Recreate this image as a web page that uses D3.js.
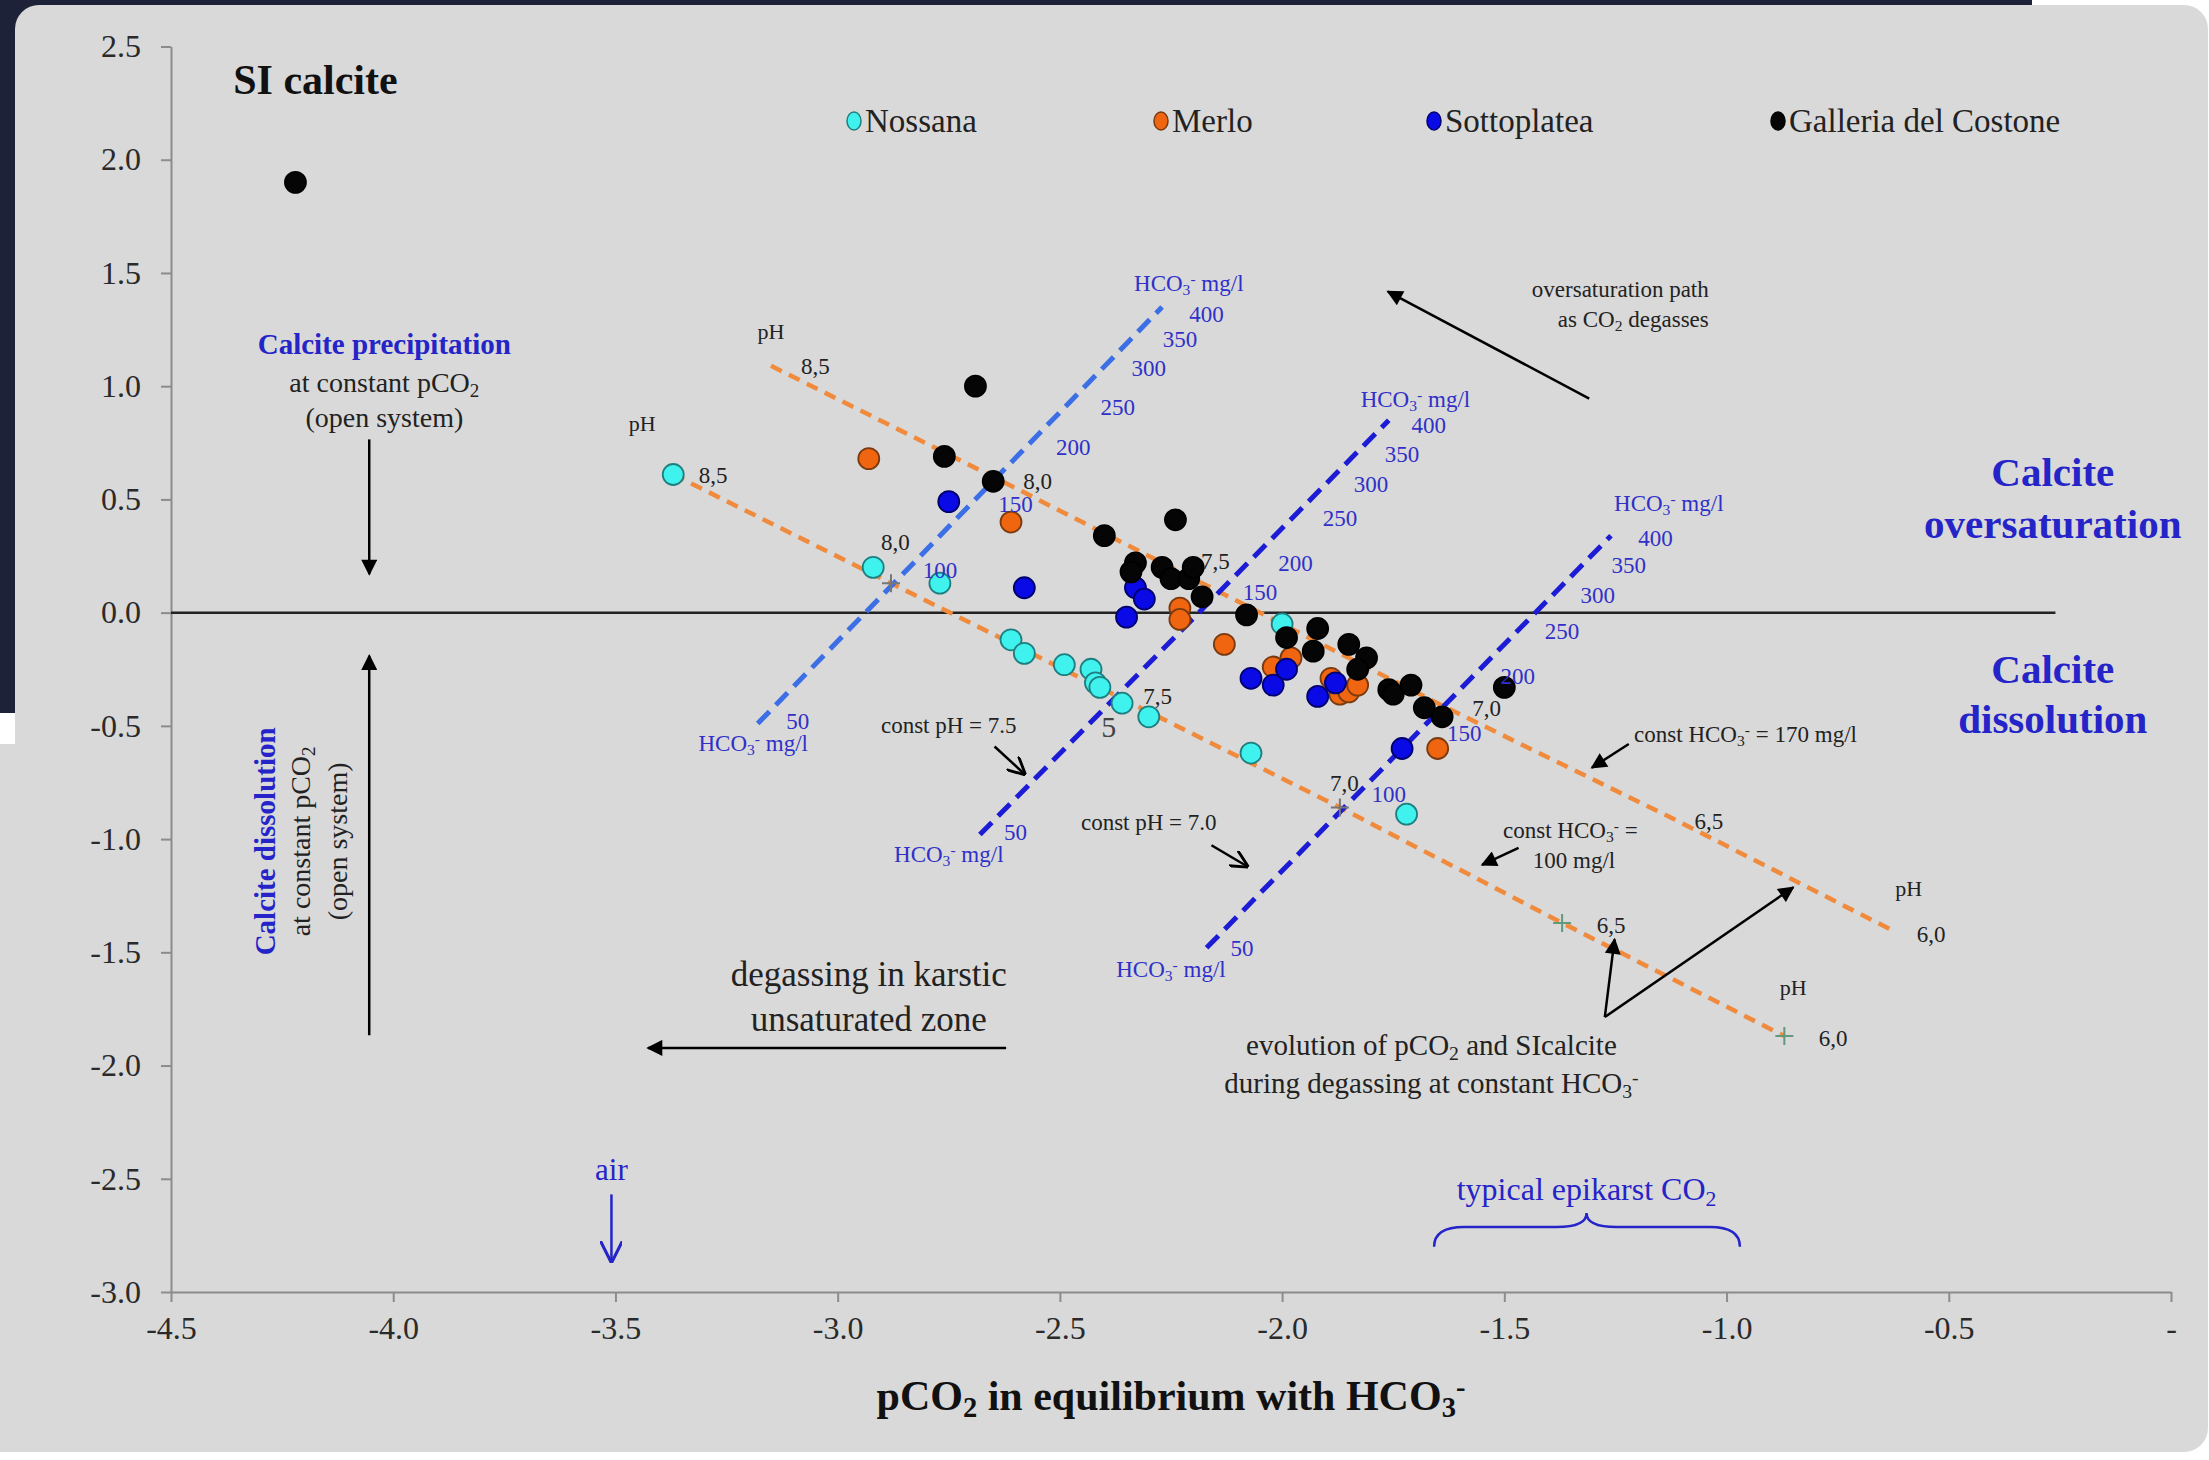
<!DOCTYPE html>
<html lang="en">
<head>
<meta charset="utf-8">
<title>SI calcite vs pCO2</title>
<script src="https://cdn.jsdelivr.net/npm/d3@7"></script>
<style>
	body { margin: 0; background: #fff; }
	svg text { font-family: "Liberation Serif", "Times New Roman", serif; }
	.axis path, .axis line { stroke: #8c8c8c; stroke-width: 2px; }
	.axis text { fill: #2a2a2a; font-size: 32px; font-family: "Liberation Serif", serif; }
</style>
</head>
<body>
<div id="chart"></div>
<script>
	// data: [pCO2, SI calcite]
	var seriesNames = ["Nossana", "Merlo", "Sottoplatea", "Galleria del Costone"];

	var nossana = [[-3.37, 0.61], [-2.92, 0.20], [-2.77, 0.13], [-2.61, -0.12], [-2.58, -0.18], [-2.49, -0.23],
		[-2.43, -0.25], [-2.42, -0.31], [-2.41, -0.33], [-2.36, -0.40], [-2.30, -0.46], [-2.07, -0.62],
		[-2.00, -0.05], [-1.72, -0.89]];

	var merlo = [[-2.93, 0.68], [-2.61, 0.40], [-2.23, 0.02], [-2.23, -0.03], [-2.13, -0.14], [-2.02, -0.24],
		[-1.98, -0.20], [-1.89, -0.29], [-1.87, -0.36], [-1.85, -0.35], [-1.83, -0.32], [-1.65, -0.60]];

	var sottoplatea = [[-2.75, 0.49], [-2.58, 0.11], [-2.33, 0.11], [-2.31, 0.06], [-2.35, -0.02], [-2.07, -0.29],
		[-2.02, -0.32], [-1.99, -0.25], [-1.92, -0.37], [-1.88, -0.31], [-1.73, -0.60]];

	var costone = [[-4.22, 1.90], [-2.69, 1.00], [-2.76, 0.69], [-2.65, 0.58], [-2.24, 0.41], [-2.40, 0.34],
		[-2.33, 0.22], [-2.34, 0.18], [-2.27, 0.20], [-2.25, 0.15], [-2.21, 0.15], [-2.20, 0.20], [-2.18, 0.07],
		[-2.08, -0.01], [-1.99, -0.11], [-1.92, -0.07], [-1.93, -0.17], [-1.85, -0.14], [-1.81, -0.20],
		[-1.83, -0.25], [-1.76, -0.34], [-1.75, -0.36], [-1.71, -0.32], [-1.68, -0.42], [-1.64, -0.46],
		[-1.50, -0.33]];

	var xTicks = [-4.5, -4.0, -3.5, -3.0, -2.5, -2.0, -1.5, -1.0, -0.5, 0];
	var yTicks = [-3.0, -2.5, -2.0, -1.5, -1.0, -0.5, 0.0, 0.5, 1.0, 1.5, 2.0, 2.5];

	// constant HCO3 lines: [pH, pCO2, SI]
	var hco3Line100 = [[8.5, -3.37, 0.61], [8.0, -2.88, 0.13], [7.5, -2.37, -0.37], [7.0, -1.87, -0.86], [6.5, -1.37, -1.37], [6.0, -0.87, -1.87]];
	var hco3Line170 = [[8.5, -3.15, 1.09], [8.0, -2.64, 0.59], [7.5, -2.13, 0.08], [7.0, -1.63, -0.42], [6.5, -1.12, -0.91], [6.0, -0.62, -1.41]];

	// constant pH lines: [HCO3 mg/l, pCO2, SI] end points
	var pHLine80 = [[50, -3.18, -0.49], [400, -2.27, 1.35]];
	var pHLine75 = [[50, -2.68, -0.98], [400, -1.76, 0.85]];
	var pHLine70 = [[50, -2.17, -1.48], [400, -1.26, 0.34]];

	// tick labels along the constant pH lines: [HCO3, label x, label y]
	var pHLabels80 = [[50, -3.09, -0.48], [100, -2.77, 0.19], [150, -2.60, 0.48], [200, -2.47, 0.73], [250, -2.37, 0.91], [300, -2.30, 1.08], [350, -2.23, 1.21], [400, -2.17, 1.32]];
	var pHLabels75 = [[50, -2.60, -0.97], [150, -2.05, 0.09], [200, -1.97, 0.22], [250, -1.87, 0.42], [300, -1.80, 0.57], [350, -1.73, 0.70], [400, -1.67, 0.83]];
	var pHLabels70 = [[50, -2.09, -1.48], [100, -1.76, -0.80], [150, -1.59, -0.53], [200, -1.47, -0.28], [250, -1.37, -0.08], [300, -1.29, 0.08], [350, -1.22, 0.21], [400, -1.16, 0.33]];

	// pH tick labels along the constant HCO3 lines: [pH text, label x, label y]
	var hcoLabels100 = [["8,5", -3.28, 0.61], ["8,0", -2.87, 0.31], ["7,5", -2.28, -0.37], ["7,0", -1.86, -0.75], ["6,5", -1.26, -1.38], ["6,0", -0.76, -1.88]];
	var hcoLabels170 = [["8,5", -3.05, 1.09], ["8,0", -2.55, 0.58], ["7,5", -2.15, 0.23], ["7,0", -1.54, -0.42], ["6,5", -1.04, -0.92], ["6,0", -0.54, -1.42]];
	var crossPH = [8.0, 7.0, 6.5, 6.0];

	var width = 2209,
		height = 1460;

	var x = d3.scaleLinear().domain([-4.5, 0]).range([171, 2171]);
	var y = d3.scaleLinear().domain([-3, 2.5]).range([1292, 46.5]);

	var svg = d3.select("#chart")
		.append("svg")
		.attr("width", width)
		.attr("height", height);

	// screenshot frame
	svg.append("rect").attr("width", width).attr("height", height).attr("fill", "#fff");
	svg.append("rect").attr("width", 2032).attr("height", 713).attr("fill", "#1e2238");
	svg.append("rect").attr("x", 15).attr("y", 5).attr("width", 2193).attr("height", 1447).attr("rx", 24).attr("fill", "#d9d9d9");
	svg.append("rect").attr("x", 0).attr("y", 744).attr("width", 60).attr("height", 708).attr("fill", "#d9d9d9");

	var blue = "#2424c8";

	// markers for arrows
	var defs = svg.append("defs");
	defs.append("marker").attr("id", "tri").attr("viewBox", "0 0 10 10").attr("refX", 9).attr("refY", 5)
		.attr("markerWidth", 18).attr("markerHeight", 16).attr("markerUnits", "userSpaceOnUse").attr("orient", "auto")
		.append("path").attr("d", "M0,0L10,5L0,10z").attr("fill", "#000");
	defs.append("marker").attr("id", "vee").attr("viewBox", "0 0 10 10").attr("refX", 9).attr("refY", 5)
		.attr("markerWidth", 18).attr("markerHeight", 18).attr("markerUnits", "userSpaceOnUse").attr("orient", "auto")
		.append("path").attr("d", "M0,0L10,5L0,10").attr("fill", "none").attr("stroke", "#000").attr("stroke-width", 1.6);
	defs.append("marker").attr("id", "veeBlue").attr("viewBox", "0 0 10 10").attr("refX", 9).attr("refY", 5)
		.attr("markerWidth", 22).attr("markerHeight", 22).attr("markerUnits", "userSpaceOnUse").attr("orient", "auto")
		.append("path").attr("d", "M0,0L10,5L0,10").attr("fill", "none").attr("stroke", blue).attr("stroke-width", 1.4);

	// axes
	svg.append("g")
		.attr("class", "axis")
		.attr("transform", "translate(0," + y(-3) + ")")
		.call(d3.axisBottom(x).tickValues(xTicks).tickSize(10).tickSizeOuter(0).tickPadding(14)
			.tickFormat(function (d) { return d === 0 ? "-" : d.toFixed(1); }));

	svg.append("g")
		.attr("class", "axis")
		.attr("transform", "translate(" + x(-4.5) + ",0)")
		.call(d3.axisLeft(y).tickValues(yTicks).tickSize(10).tickSizeOuter(0).tickPadding(20)
			.tickFormat(function (d) { return d.toFixed(1); }));

	// zero line
	svg.append("line")
		.attr("x1", x(-4.5)).attr("x2", x(-0.26))
		.attr("y1", y(0)).attr("y2", y(0))
		.attr("stroke", "#222").attr("stroke-width", 2.5);

	// text helper with sub/superscripts
	function rich(g, px, py, parts, opt) {
		var t = g.append("text")
			.attr("x", px).attr("y", py)
			.attr("text-anchor", opt.anchor || "middle")
			.attr("font-size", opt.size)
			.attr("font-weight", opt.weight || "normal")
			.attr("fill", opt.color || "#222");
		if (opt.rotate) t.attr("transform", "rotate(" + opt.rotate + "," + px + "," + py + ")");
		parts.forEach(function (p) {
			var s = t.append("tspan").text(p[0]);
			if (p[1] === "sub") s.attr("baseline-shift", "-25%").attr("font-size", "68%");
			if (p[1] === "sup") s.attr("baseline-shift", "45%").attr("font-size", "68%");
		});
		return t;
	}

	// dashed reference lines
	var lineGen = d3.line().x(function (d) { return x(d[1]); }).y(function (d) { return y(d[2]); });
	var refs = svg.append("g");
	[hco3Line100, hco3Line170].forEach(function (l) {
		refs.append("path").attr("d", lineGen(l)).attr("fill", "none")
			.attr("stroke", "#f08a3c").attr("stroke-width", 4.5).attr("stroke-dasharray", "12,8");
	});
	[[pHLine80, "#3c6ee6"], [pHLine75, "#1c1cd6"], [pHLine70, "#1c1cd6"]].forEach(function (l) {
		refs.append("path").attr("d", lineGen(l[0])).attr("fill", "none")
			.attr("stroke", l[1]).attr("stroke-width", 5).attr("stroke-dasharray", "17,9");
	});

	// + markers on the 100 mg/l line
	hco3Line100.filter(function (d) { return crossPH.indexOf(d[0]) >= 0; }).forEach(function (d) {
		var cx = x(d[1]), cy = y(d[2]);
		var c = d[0] < 7 ? "#5f9a7c" : "#777";
		refs.append("path").attr("d", "M" + (cx - 9) + "," + cy + "H" + (cx + 9) + "M" + cx + "," + (cy - 9) + "V" + (cy + 9))
			.attr("stroke", c).attr("stroke-width", 2);
	});

	// data points
	var styles = [
		{ data: nossana, fill: "#3ff2ee", stroke: "#1f7f80" },
		{ data: merlo, fill: "#f0650f", stroke: "#7a3a10" },
		{ data: sottoplatea, fill: "#0a0ae6", stroke: "#00006e" },
		{ data: costone, fill: "#050505", stroke: "#000" }
	];
	styles.forEach(function (s) {
		svg.append("g").selectAll("circle")
			.data(s.data)
			.enter().append("circle")
			.attr("cx", function (d) { return x(d[0]); })
			.attr("cy", function (d) { return y(d[1]); })
			.attr("r", 10.5)
			.attr("fill", s.fill)
			.attr("stroke", s.stroke)
			.attr("stroke-width", 1.8);
	});

	// labels along reference lines
	var lab = svg.append("g");
	[hcoLabels100, hcoLabels170].forEach(function (arr) {
		arr.forEach(function (d) {
			lab.append("text").attr("x", x(d[1])).attr("y", y(d[2])).attr("dy", "0.35em")
				.attr("text-anchor", "middle").attr("font-size", 23).attr("fill", "#222").text(d[0]);
		});
	});
	[pHLabels80, pHLabels75, pHLabels70].forEach(function (arr) {
		arr.forEach(function (d) {
			lab.append("text").attr("x", x(d[1])).attr("y", y(d[2])).attr("dy", "0.35em")
				.attr("text-anchor", "middle").attr("font-size", 23).attr("fill", "#3030c8").text(d[0]);
		});
	});

	var hcoHead = [["HCO", ""], ["3", "sub"], ["-", "sup"], [" mg/l", ""]];
	[[-2.21, 1.42], [-3.19, -0.61], [-1.70, 0.91], [-2.75, -1.10], [-1.13, 0.45], [-2.25, -1.61]].forEach(function (p) {
		rich(lab, x(p[0]), y(p[1]), hcoHead, { size: 23, color: "#3030c8" });
	});
	[[-3.15, 1.21], [-3.44, 0.80], [-0.59, -1.25], [-0.85, -1.69]].forEach(function (p) {
		rich(lab, x(p[0]), y(p[1]), [["pH", ""]], { size: 22 });
	});
	rich(lab, x(-2.39), y(-0.55), [["5", ""]], { size: 30, color: "#444" });

	// annotations
	var ann = svg.append("g");
	rich(ann, x(-4.36), y(2.29), [["SI calcite", ""]], { anchor: "start", size: 42, weight: "bold", color: "#111" });

	rich(ann, x(-4.02), y(1.14), [["Calcite precipitation", ""]], { size: 29, weight: "bold", color: blue });
	rich(ann, x(-4.02), y(0.975), [["at constant pCO", ""], ["2", "sub"]], { size: 28 });
	rich(ann, x(-4.02), y(0.82), [["(open system)", ""]], { size: 28 });

	rich(ann, x(-4.267), y(-1.01), [["Calcite dissolution", ""]], { size: 29, weight: "bold", color: blue, rotate: -90 });
	rich(ann, x(-4.187), y(-1.01), [["at constant pCO", ""], ["2", "sub"]], { size: 28, rotate: -90 });
	rich(ann, x(-4.105), y(-1.01), [["(open system)", ""]], { size: 28, rotate: -90 });

	rich(ann, x(-0.266), y(0.56), [["Calcite", ""]], { size: 41, weight: "bold", color: blue });
	rich(ann, x(-0.266), y(0.33), [["oversaturation", ""]], { size: 41, weight: "bold", color: blue });
	rich(ann, x(-0.266), y(-0.31), [["Calcite", ""]], { size: 41, weight: "bold", color: blue });
	rich(ann, x(-0.266), y(-0.53), [["dissolution", ""]], { size: 41, weight: "bold", color: blue });

	rich(ann, x(-1.04), y(1.393), [["oversaturation path", ""]], { anchor: "end", size: 23 });
	rich(ann, x(-1.04), y(1.262), [["as CO", ""], ["2", "sub"], [" degasses", ""]], { anchor: "end", size: 23 });

	rich(ann, x(-2.75), y(-0.53), [["const pH = 7.5", ""]], { size: 23 });
	rich(ann, x(-2.30), y(-0.96), [["const pH = 7.0", ""]], { size: 23 });
	rich(ann, x(-1.208), y(-0.573), [["const HCO", ""], ["3", "sub"], ["-", "sup"], [" = 170 mg/l", ""]], { anchor: "start", size: 23 });
	rich(ann, x(-1.503), y(-0.996), [["const HCO", ""], ["3", "sub"], ["-", "sup"], [" =", ""]], { anchor: "start", size: 23 });
	rich(ann, x(-1.436), y(-1.126), [["100 mg/l", ""]], { anchor: "start", size: 23 });

	rich(ann, x(-2.93), y(-1.649), [["degassing in karstic", ""]], { size: 35 });
	rich(ann, x(-2.93), y(-1.848), [["unsaturated zone", ""]], { size: 35 });

	rich(ann, x(-1.664), y(-1.954), [["evolution of pCO", ""], ["2", "sub"], [" and SIcalcite", ""]], { size: 29 });
	rich(ann, x(-1.664), y(-2.121), [["during degassing at constant HCO", ""], ["3", "sub"], ["-", "sup"]], { size: 29 });

	rich(ann, x(-3.509), y(-2.507), [["air", ""]], { size: 31, color: blue });
	rich(ann, x(-1.315), y(-2.594), [["typical epikarst CO", ""], ["2", "sub"]], { size: 32, color: blue });

	rich(ann, x(-2.25), y(-3.0) + 118, [["pCO", ""], ["2", "sub"], [" in equilibrium with HCO", ""], ["3", "sub"], ["-", "sup"]], { size: 42, weight: "bold", color: "#111" });

	// arrows: [x1, y1, x2, y2, marker, color]
	var arrows = [
		[-4.054, 0.765, -4.054, 0.17, "tri", "#000"],
		[-4.054, -1.866, -4.054, -0.19, "tri", "#000"],
		[-1.309, 0.945, -1.762, 1.418, "tri", "#000"],
		[-2.621, -1.922, -3.427, -1.922, "tri", "#000"],
		[-1.274, -1.786, -1.252, -1.443, "tri", "#000"],
		[-1.274, -1.786, -0.850, -1.213, "tri", "#000"],
		[-2.647, -0.591, -2.580, -0.712, "vee", "#000"],
		[-2.159, -1.027, -2.079, -1.120, "vee", "#000"],
		[-1.220, -0.580, -1.303, -0.685, "tri", "#000"],
		[-1.468, -1.039, -1.550, -1.114, "tri", "#000"],
		[-3.509, -2.569, -3.509, -2.862, "veeBlue", blue]
	];
	arrows.forEach(function (a) {
		ann.append("line")
			.attr("x1", x(a[0])).attr("y1", y(a[1]))
			.attr("x2", x(a[2])).attr("y2", y(a[3]))
			.attr("stroke", a[5]).attr("stroke-width", 2.5)
			.attr("marker-end", "url(#" + a[4] + ")");
	});

	// brace under "typical epikarst CO2"
	var bl = x(-1.658), br = x(-0.970), bc = x(-1.315);
	var bt = y(-2.80), bf = y(-2.713), bp = y(-2.651);
	ann.append("path")
		.attr("d", "M" + bl + "," + bt + "Q" + bl + "," + bf + " " + (bl + 30) + "," + bf +
			"L" + (bc - 30) + "," + bf + "Q" + bc + "," + bf + " " + bc + "," + bp +
			"Q" + bc + "," + bf + " " + (bc + 30) + "," + bf +
			"L" + (br - 30) + "," + bf + "Q" + br + "," + bf + " " + br + "," + bt)
		.attr("fill", "none").attr("stroke", blue).attr("stroke-width", 2.5);

	// legend
	var legendX = [854, 1161, 1434, 1778];
	var legend = svg.append("g").attr("transform", "translate(0,121)");
	seriesNames.forEach(function (name, i) {
		legend.append("ellipse").attr("cx", legendX[i]).attr("cy", 0).attr("rx", 7).attr("ry", 9)
			.attr("fill", styles[i].fill).attr("stroke", styles[i].stroke).attr("stroke-width", 1.5);
		legend.append("text").attr("x", legendX[i] + 11).attr("y", 11)
			.attr("font-size", 33).attr("fill", "#222").text(name);
	});
</script>
</body>
</html>
